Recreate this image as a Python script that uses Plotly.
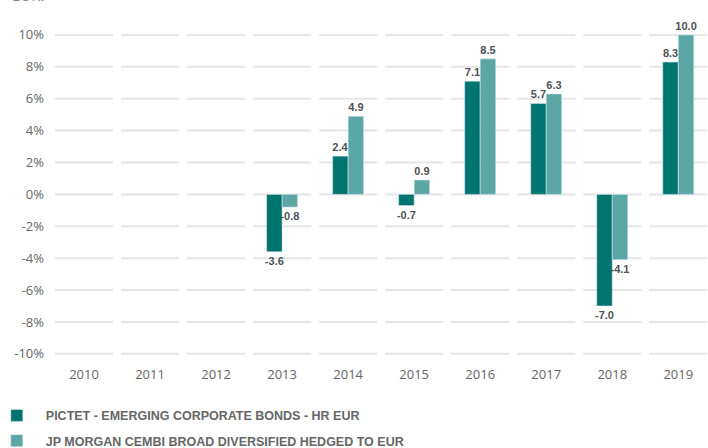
import plotly.graph_objects as go

years = ["2010", "2011", "2012", "2013", "2014", "2015", "2016", "2017", "2018", "2019"]
fund = [None, None, None, -3.6, 2.4, -0.7, 7.1, 5.7, -7.0, 8.3]
index = [None, None, None, -0.8, 4.9, 0.9, 8.5, 6.3, -4.1, 10.0]
fund_name = "PICTET - EMERGING CORPORATE BONDS - HR EUR"
index_name = "JP MORGAN CEMBI BROAD DIVERSIFIED HEDGED TO EUR"
y_ticks = [-10, -8, -6, -4, -2, 0, 2, 4, 6, 8, 10]

dark = "#00746f"
light = "#5ba7a6"
font = "Open Sans, Liberation Sans, sans-serif"

x = list(range(len(years)))


def labels(vals):
    return ["" if v is None else f"{v:.1f}" for v in vals]


label_font = dict(family="Liberation Sans, sans-serif", size=11, color="#4d5257", weight="bold")

fig = go.Figure()
fig.add_trace(go.Bar(
    x=x, y=fund, name=fund_name, marker_color=dark, legendgroup="fund",
    text=labels(fund), textposition="outside", cliponaxis=False,
    constraintext="none", textfont=label_font,
))
fig.add_trace(go.Bar(
    x=x, y=index, name=index_name, marker_color=light, legendgroup="index",
    text=labels(index), textposition="outside", cliponaxis=False,
    constraintext="none", textfont=label_font,
))

# gridlines broken up per category, like the original
shapes = []
for i in x:
    for t in y_ticks:
        shapes.append(dict(
            type="line", xref="x", yref="y", layer="below",
            x0=i - 0.44, x1=i + 0.44, y0=t, y1=t,
            line=dict(color="#e6e6e6", width=2),
        ))

fig.update_layout(
    width=708, height=448,
    margin=dict(l=51, r=0, t=11, b=83, autoexpand=False),
    paper_bgcolor="white", plot_bgcolor="white",
    barmode="group", bargap=0.53, bargroupgap=0,
    font=dict(family=font, color="#666666"),
    shapes=shapes,
    showlegend=True,
    legend=dict(
        orientation="v", x=-0.0962, xanchor="left", y=-0.101, yanchor="top",
        font=dict(family="Liberation Sans, sans-serif", size=12.5, color="#666666", weight="bold"),
        itemwidth=48, tracegroupgap=6, traceorder="grouped",
    ),
    xaxis=dict(
        range=[-0.5, 9.45], tickvals=x, ticktext=years,
        showgrid=False, zeroline=False, showline=False, ticks="",
        tickfont=dict(size=13, color="#666666"),
    ),
    yaxis=dict(
        range=[-10.7, 11.5], tickvals=y_ticks,
        ticktext=[f"{t}%" for t in y_ticks],
        showgrid=False, zeroline=False, showline=False, ticks="",
        tickfont=dict(size=13, color="#666666"),
        ticklabelstandoff=6,
    ),
    annotations=[dict(
        text="EUR.", xref="paper", yref="paper", x=-0.063, y=1.0113,
        xanchor="left", yanchor="bottom", showarrow=False,
        font=dict(size=15, color="#888888"),
    )],
)

# the page's default body margin would push the chart 8px in
fig.write_html(
    "out.html",
    config={"displayModeBar": False},
    post_script="document.body.style.margin = '0';",
)
